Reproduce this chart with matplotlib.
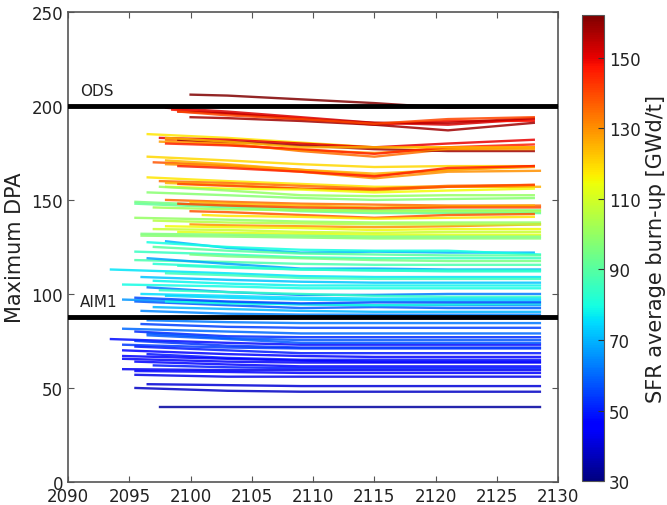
import numpy as np
import matplotlib
matplotlib.use("Agg")
from matplotlib import pyplot as plt
from matplotlib import cm, colors

# one entry per reactor scenario line; dpa given at start, 2103, 2109, 2115, 2121 and end
knot_years = [2103, 2109, 2115, 2121]

burnup = [162, 152, 148, 155, 158, 140,
          118, 150, 135, 158, 128, 145, 125,
          120, 138, 130, 125, 145,
          118, 135, 125, 140, 115,
          100, 98, 95, 92,
          135, 125, 140, 102, 138, 118, 100, 130, 115, 108, 112, 98,
          70, 80, 90, 85, 95, 88, 68, 82, 76, 86, 72, 79, 62, 84, 75, 58, 66, 80, 70,
          62, 55, 60, 52, 57, 48, 54, 50, 46, 49, 44, 47, 43, 45, 42, 40, 38, 34,
          64, 74, 56, 78, 83, 58, 53, 45, 50, 105, 96]

start_year = [2100, 2098, 2098.5, 2099, 2100, 2099,
              2096.5, 2097.5, 2098, 2099, 2097.5, 2098, 2098,
              2096.5, 2097, 2098, 2098, 2099,
              2096.5, 2097.5, 2098, 2099, 2098,
              2097.5, 2096.5, 2095.5, 2095.5,
              2098, 2100, 2099, 2097, 2100, 2101, 2095.5, 2100, 2098, 2097, 2099, 2096,
              2098, 2096.5, 2097, 2095.5, 2100, 2095.5, 2096.5, 2097, 2093.5, 2098, 2096, 2094.5,
              2096.5, 2097.5, 2096, 2095.5, 2094.5, 2098, 2097,
              2096.5, 2096, 2094.5, 2095.5, 2096.5, 2093.5, 2094.5, 2095.5, 2094.5, 2096.5,
              2094.5, 2095.5, 2094.5, 2095.5, 2095.5, 2096.5, 2095.5, 2097.5,
              2096, 2098, 2095.5, 2097, 2099, 2096.5, 2095.5, 2094.5, 2097, 2097, 2096]

end_year = [2127, 2128, 2128, 2128, 2128, 2128,
            2128, 2128, 2128, 2128, 2128, 2128, 2128,
            2128, 2128, 2128.5, 2128, 2128,
            2128, 2128, 2128.5, 2128, 2128,
            2128, 2128, 2128.5, 2128.5,
            2128.5, 2128, 2128.5, 2128.5, 2128, 2128, 2128.5, 2128.5, 2128.5, 2128.5, 2128.5, 2128.5,
            2128, 2128.5, 2128.5, 2128.5, 2128.5, 2128.5, 2128.5, 2128.5, 2128.5, 2128.5, 2128.5,
            2128.5, 2128.5, 2128.5, 2128.5, 2128.5, 2128.5, 2128.5, 2128.5,
            2128.5, 2128.5, 2128.5, 2128.5, 2128.5, 2128.5, 2128.5, 2128.5, 2128.5, 2128.5,
            2128.5, 2128.5, 2128.5, 2128.5, 2128.5, 2128.5, 2128.5, 2128.5,
            2128.5, 2128.5, 2128.5, 2128.5, 2128.5, 2128.5, 2128.5, 2128.5, 2128.5, 2128.5, 2128.5]

dpa_first = [206, 199, 198, 197, 194, 197,
             185, 183, 182, 182, 181, 180, 183,
             173, 170, 169, 171, 168,
             162, 160, 159, 158.5, 157,
             157, 154, 149, 148,
             150, 149, 148, 146, 144, 142, 140.5, 137, 136, 134.5, 133, 131,
             128, 127.5, 125, 122.5, 121, 118, 119, 116, 113, 111, 109, 105,
             103.5, 102, 100, 96, 97, 96, 93,
             86, 84, 81.5, 80, 79, 76, 73, 72, 70, 68,
             65.5, 64, 60, 59, 57, 52, 50, 40,
             91, 99, 98, 107, 115, 78, 75, 67, 62, 139, 132]

dpa_2103 = [205.5, 197, 196, 196, 193.5, 195,
            183, 182, 180, 181, 179.5, 179, 181,
            171, 168.5, 168, 169, 167,
            160, 159, 158, 157.5, 156,
            155, 152.5, 147, 146,
            149, 148, 147, 145, 143.5, 141.5, 139.5, 136.5, 135.5, 134, 132.5, 130.5,
            124.5, 125, 123, 121, 120, 117, 116, 114.5, 111, 110, 107.5, 104,
            101, 101, 99, 94, 95.5, 95, 92,
            85, 82.5, 80, 77.5, 76.5, 74, 71.5, 70, 68, 66,
            64, 62.5, 59.5, 58.5, 56, 51.5, 48.5, 40,
            89.5, 98, 96, 105.5, 114, 76, 72.5, 65.5, 61, 138, 131.5]

dpa_2109 = [203.5, 194, 193.5, 193, 192, 193,
            180.5, 180, 176, 179, 176.5, 177, 178,
            169, 166, 165, 166, 165,
            158.5, 157.5, 156, 156, 155.5,
            152.5, 151, 145, 144,
            148, 147, 146, 144.5, 142, 141, 138.5, 136, 135, 133, 132, 130,
            122, 123.5, 121.5, 119.5, 119, 116, 113.5, 113, 109.5, 108.5, 106.5, 103,
            99.5, 100, 98, 92.5, 94.5, 94.5, 91,
            84.5, 82, 79, 77, 75.5, 73, 71, 68.5, 67, 65,
            63.5, 61.5, 59.5, 58, 56, 51, 48, 40,
            89, 97, 95, 104.5, 113, 74, 71.5, 64.5, 60.5, 137.5, 131]

dpa_2115 = [201.5, 191, 190, 191, 190, 190.5,
            178, 178, 173, 177, 175, 174.5, 178,
            167.5, 163, 161.5, 164, 162.5,
            157, 156, 155, 155.5, 154,
            152, 150, 144.5, 143,
            147.5, 146, 145.5, 144, 140.5, 140, 138, 135.5, 134, 132.5, 131.5, 129.5,
            122.5, 123, 121, 119, 118, 115.5, 113.5, 112.5, 109, 108, 106, 103,
            99.5, 99, 97.5, 93, 94, 94, 90.5,
            84.5, 82, 79, 77, 75.5, 73, 71, 68.5, 66.5, 65,
            63.5, 61.5, 59.5, 58, 56, 51, 48, 40,
            89, 96.5, 95.5, 104.5, 112.5, 74, 71.5, 64, 60.5, 137, 130.5]

dpa_2121 = [199, 190, 192, 191, 187, 193,
            178, 180, 177, 176, 177, 178, 178,
            168, 166, 165, 166, 167,
            157, 157.5, 157, 157, 155,
            152.5, 150.5, 144.5, 143,
            147, 146.5, 146, 144, 142, 140.5, 138, 136, 134.5, 133, 131.5, 129.5,
            122, 123, 120.5, 119, 117.5, 115.5, 113, 112, 109, 108, 106, 103,
            100, 98.5, 97.5, 92.5, 94, 94.5, 90.5,
            84.5, 82, 79, 77, 75.5, 73, 71, 68.5, 66.5, 65,
            63.5, 61.5, 59.5, 58, 56, 51, 48, 40,
            89, 96.5, 95.5, 104.5, 112.5, 74, 71.5, 64, 60.5, 137, 130.5]

dpa_last = [200, 193, 192, 193.5, 191, 194,
            178, 182, 178, 176, 177, 179.5, 178,
            168, 168, 165.5, 167.5, 168,
            157, 158, 157, 158, 156,
            152.5, 151, 144.5, 143,
            147, 147, 146, 144, 142.5, 141, 138, 137, 134.5, 133, 131.5, 129.5,
            122, 121, 120.5, 119, 117.5, 115.5, 113, 112, 109, 108, 106, 103,
            100, 98.5, 97.5, 92.5, 94, 95, 90.5,
            84.5, 82, 79, 77, 75.5, 73, 71, 68.5, 66.5, 65,
            63.5, 61.5, 59.5, 58, 56, 51, 48, 40,
            89, 96.5, 95.5, 104.5, 112.5, 74, 71.5, 64, 60.5, 137, 130.5]

ods_limit = 200
aim1_limit = 88
bu_min, bu_max = 30, 162
cbar_ticks = [30, 50, 70, 90, 110, 130, 150]

txt = '#222222'
plt.rcParams['font.family'] = 'DejaVu Sans'
fig = plt.figure(figsize=(6.67, 5.06), dpi=100)
ax = fig.add_axes([0.102, 0.0455, 0.735, 0.929])
cax = fig.add_axes([0.8726, 0.047, 0.033, 0.921])

norm = colors.Normalize(vmin=bu_min, vmax=bu_max)
cmap = plt.get_cmap('jet')

for i in range(len(burnup)):
    xs = [start_year[i]] + knot_years + [end_year[i]]
    ys = [dpa_first[i], dpa_2103[i], dpa_2109[i], dpa_2115[i], dpa_2121[i], dpa_last[i]]
    ax.plot(xs, ys, color=cmap(norm(burnup[i])), lw=1.7, alpha=0.85, zorder=2)

ax.axhline(ods_limit, color='black', lw=3.5, zorder=3)
ax.axhline(aim1_limit, color='black', lw=3.5, zorder=3)
ax.text(2091, ods_limit + 4, 'ODS', fontsize=11, color=txt, va='bottom')
ax.text(2091, aim1_limit + 4, 'AIM1', fontsize=11, color=txt, va='bottom')

ax.set_xlim(2090, 2130)
ax.set_ylim(0, 250)
ax.set_xticks(np.arange(2090, 2131, 5))
ax.set_yticks(np.arange(0, 251, 50))
ax.set_ylabel('Maximum DPA', fontsize=15, color=txt)
ax.yaxis.set_label_coords(-0.088, 0.5)
ax.tick_params(direction='in', top=True, right=True, labelsize=12, labelcolor=txt,
               color='#555555', length=4)
for s in ax.spines.values():
    s.set_color('#555555')
    s.set_linewidth(1.2)

sm = cm.ScalarMappable(norm=norm, cmap=cmap)
cb = fig.colorbar(sm, cax=cax, ticks=cbar_ticks)
cb.ax.tick_params(direction='in', labelsize=12, labelcolor=txt, color='#333333', length=4)
cb.set_label('SFR average burn-up [GWd/t]', fontsize=15, color=txt)
cb.outline.set_edgecolor('#555555')

fig.savefig('out.png', dpi=100)
